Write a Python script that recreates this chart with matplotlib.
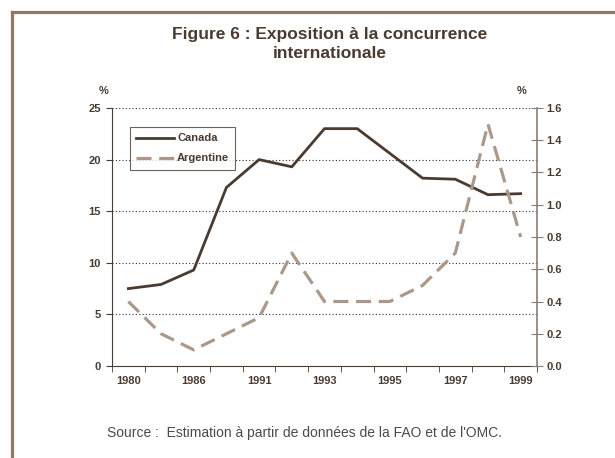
import matplotlib
matplotlib.use("Agg")
import matplotlib.pyplot as plt
from matplotlib.lines import Line2D
from matplotlib.ticker import FixedLocator, FormatStrFormatter

plt.rcParams["font.family"] = ["Liberation Sans", "DejaVu Sans"]

years = ["1980", "1983", "1986", "1989", "1991", "1992", "1993",
         "1994", "1995", "1996", "1997", "1998", "1999"]
canada = [7.5, 7.9, 9.3, 17.3, 20.0, 19.3, 23.0, 23.0, 20.6, 18.2, 18.1, 16.6, 16.7]
argentine = [0.4, 0.2, 0.1, 0.2, 0.3, 0.7, 0.4, 0.4, 0.4, 0.5, 0.7, 1.5, 0.8]

dark = "#4a3b31"
light = "#aa998a"
frame = "#8c7a66"

fig = plt.figure(figsize=(6.15, 4.58), dpi=100)
W, H = 615, 458

# outer frame (only left and top edges fall inside the picture)
fig.add_artist(Line2D([12 / W, 12 / W], [0, 1 - 12 / H], color=frame, lw=2.3,
                      transform=fig.transFigure))
fig.add_artist(Line2D([12 / W, 1], [1 - 12 / H, 1 - 12 / H], color=frame, lw=2.3,
                      transform=fig.transFigure))

ax = fig.add_axes([112 / W, 1 - 366 / H, (537 - 112) / W, (366 - 108) / H])
ax2 = ax.twinx()

x = list(range(len(years)))
l1, = ax.plot(x, canada, color=dark, lw=2.0, label="Canada", zorder=3)
l2, = ax2.plot(x, argentine, color=light, lw=2.3, dashes=(4.7, 2.4), label="Argentine")

ax.set_xlim(-0.5, len(years) - 0.5)
ax.set_ylim(0, 25)
ax2.set_ylim(0, 1.6)

ax.set_yticks(range(0, 26, 5))
ax2.set_yticks([i * 0.2 for i in range(9)])
ax2.yaxis.set_major_formatter(FormatStrFormatter("%.1f"))

ax.set_xticks(x[::2])
ax.set_xticklabels(years[::2])
ax.xaxis.set_minor_locator(FixedLocator([i - 0.5 for i in range(len(years) + 1)]))
ax.tick_params(axis="x", which="major", length=0, pad=7)
ax.tick_params(axis="x", which="minor", length=4, direction="out", color=dark)
ax.tick_params(axis="y", length=4, direction="out", color=dark, pad=4)
ax2.tick_params(axis="y", length=8, direction="inout", color="#8a7e74", pad=3)

for a in (ax, ax2):
    for lab in a.get_xticklabels() + a.get_yticklabels():
        lab.set_fontweight("bold")
        lab.set_fontsize(8)
        lab.set_color(dark)

for yv in range(5, 26, 5):
    ax.axhline(yv, color="#333333", lw=0.8, ls=(0, (1, 2)), zorder=1)

ax.spines["top"].set_visible(False)
ax2.spines["top"].set_visible(False)
ax.spines["left"].set_color(dark)
ax.spines["bottom"].set_color(dark)
ax.spines["right"].set_visible(False)
ax2.spines["left"].set_visible(False)
ax2.spines["bottom"].set_visible(False)
ax2.spines["right"].set_color("#8a7e74")
ax2.spines["right"].set_linewidth(1.2)

leg = ax.legend(handles=[l1, l2], loc="upper left", bbox_to_anchor=(0.042, 0.925),
                borderaxespad=0, frameon=True, fancybox=False, fontsize=8,
                handlelength=3.4, borderpad=0.55, labelspacing=0.9, handletextpad=0.3)
leg.get_frame().set_edgecolor(dark)
leg.get_frame().set_linewidth(0.8)
for t in leg.get_texts():
    t.set_fontweight("bold")
    t.set_color(dark)

fig.text(330 / W, 1 - 39 / H, "Figure 6 : Exposition à la concurrence", ha="center",
         va="baseline", fontsize=12.5, fontweight="bold", color=dark)
fig.text(330 / W, 1 - 58 / H, "internationale", ha="center", va="baseline",
         fontsize=12.5, fontweight="bold", color=dark)
fig.text(104 / W, 1 - 91 / H, "%", ha="center", va="center", fontsize=8,
         fontweight="bold", color=dark)
fig.text(522 / W, 1 - 91 / H, "%", ha="center", va="center", fontsize=8,
         fontweight="bold", color=dark)
fig.text(107 / W, 1 - 433 / H, "Source :  Estimation à partir de données de la FAO et de l'OMC.",
         ha="left", va="center", fontsize=10, color="#4a4a4a")

fig.savefig("out.png", dpi=100)
